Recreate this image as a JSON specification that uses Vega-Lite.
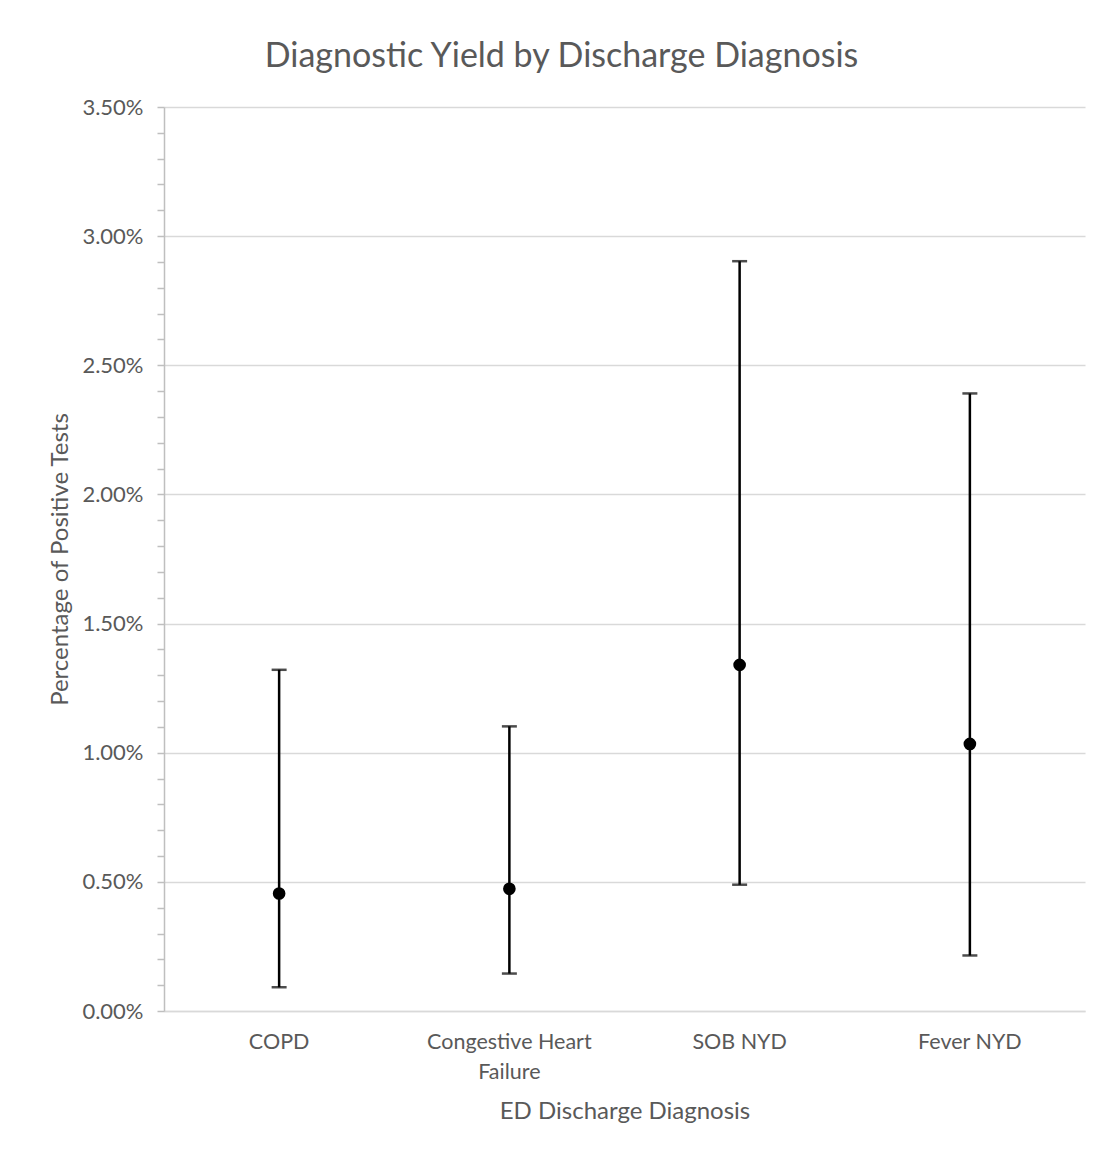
{
  "$schema": "https://vega.github.io/schema/vega-lite/v6.json",
  "autosize": "none",
  "width": 921,
  "height": 904,
  "padding": {"left": 164, "top": 107, "right": 19, "bottom": 143},
  "background": "white",
  "title": {
    "text": "Diagnostic Yield by Discharge Diagnosis",
    "font": "Lato",
    "fontSize": 34,
    "fontWeight": "normal",
    "color": "#595959",
    "anchor": "middle",
    "dx": -63,
    "offset": 22
  },
  "data": {
    "values": [
      {"diagnosis": "COPD", "mean": 0.00455, "lower": 0.00092, "upper": 0.01321},
      {"diagnosis": "Congestive Heart Failure", "mean": 0.00473, "lower": 0.00145, "upper": 0.01102},
      {"diagnosis": "SOB NYD", "mean": 0.0134, "lower": 0.00489, "upper": 0.02903},
      {"diagnosis": "Fever NYD", "mean": 0.01034, "lower": 0.00215, "upper": 0.02391}
    ]
  },
  "encoding": {
    "x": {
      "field": "diagnosis",
      "type": "nominal",
      "sort": null,
      "title": "ED Discharge Diagnosis",
      "scale": {"paddingInner": 0, "paddingOuter": 0},
      "axis": {
        "labelAngle": 0,
        "labelFont": "Lato",
        "labelFontSize": 21.5,
        "labelColor": "#595959",
        "labelPadding": 20,
        "labelLineHeight": 30,
        "labelExpr": "datum.label == 'Congestive Heart Failure' ? ['Congestive Heart', 'Failure'] : datum.label",
        "ticks": false,
        "domainColor": "#d9d9d9",
        "domainWidth": 1.5,
        "titleFont": "Lato",
        "titleFontSize": 24,
        "titleFontWeight": "normal",
        "titleColor": "#595959",
        "titlePadding": 17
      }
    }
  },
  "layer": [
    {
      "mark": {"type": "rule", "color": "black", "strokeWidth": 2.5},
      "encoding": {
        "y": {
          "field": "lower",
          "type": "quantitative",
          "title": "Percentage of Positive Tests",
          "scale": {"domain": [0, 0.035], "nice": false},
          "axis": {
            "values": [0, 0.001, 0.002, 0.003, 0.004, 0.005, 0.006, 0.007, 0.008, 0.009, 0.01, 0.011, 0.012, 0.013, 0.014, 0.015, 0.016, 0.017, 0.018, 0.019, 0.02, 0.021, 0.022, 0.023, 0.024, 0.025, 0.026, 0.027, 0.028, 0.029, 0.03, 0.031, 0.032, 0.033, 0.034, 0.035],
            "labelExpr": "abs(datum.value * 200 - round(datum.value * 200)) < 0.01 ? format(datum.value, '.2%') : ''",
            "labelOverlap": false,
            "labelFont": "Lato",
            "labelFontSize": 22,
            "labelColor": "#595959",
            "labelPadding": 14,
            "tickColor": "#bfbfbf",
            "tickWidth": 1.5,
            "tickSize": 7,
            "domainColor": "#bfbfbf",
            "domainWidth": 1.5,
            "grid": true,
            "gridColor": "#d9d9d9",
            "gridWidth": 1.5,
            "gridOpacity": {"condition": {"test": "abs(datum.value * 200 - round(datum.value * 200)) < 0.01", "value": 1}, "value": 0},
            "titleFont": "Lato",
            "titleFontSize": 24,
            "titleFontWeight": "normal",
            "titleColor": "#595959",
            "titlePadding": 9
          }
        },
        "y2": {"field": "upper"}
      }
    },
    {
      "mark": {"type": "tick", "color": "black", "thickness": 2.5, "size": 15, "orient": "horizontal"},
      "encoding": {
        "y": {
          "field": "lower",
          "type": "quantitative",
          "title": "Percentage of Positive Tests",
          "scale": {"domain": [0, 0.035], "nice": false},
          "axis": {
            "values": [0, 0.001, 0.002, 0.003, 0.004, 0.005, 0.006, 0.007, 0.008, 0.009, 0.01, 0.011, 0.012, 0.013, 0.014, 0.015, 0.016, 0.017, 0.018, 0.019, 0.02, 0.021, 0.022, 0.023, 0.024, 0.025, 0.026, 0.027, 0.028, 0.029, 0.03, 0.031, 0.032, 0.033, 0.034, 0.035],
            "labelExpr": "abs(datum.value * 200 - round(datum.value * 200)) < 0.01 ? format(datum.value, '.2%') : ''",
            "labelOverlap": false,
            "labelFont": "Lato",
            "labelFontSize": 22,
            "labelColor": "#595959",
            "labelPadding": 14,
            "tickColor": "#bfbfbf",
            "tickWidth": 1.5,
            "tickSize": 7,
            "domainColor": "#bfbfbf",
            "domainWidth": 1.5,
            "grid": true,
            "gridColor": "#d9d9d9",
            "gridWidth": 1.5,
            "gridOpacity": {"condition": {"test": "abs(datum.value * 200 - round(datum.value * 200)) < 0.01", "value": 1}, "value": 0},
            "titleFont": "Lato",
            "titleFontSize": 24,
            "titleFontWeight": "normal",
            "titleColor": "#595959",
            "titlePadding": 9
          }
        }
      }
    },
    {
      "mark": {"type": "tick", "color": "black", "thickness": 2.5, "size": 15, "orient": "horizontal"},
      "encoding": {
        "y": {
          "field": "upper",
          "type": "quantitative",
          "title": "Percentage of Positive Tests",
          "scale": {"domain": [0, 0.035], "nice": false},
          "axis": {
            "values": [0, 0.001, 0.002, 0.003, 0.004, 0.005, 0.006, 0.007, 0.008, 0.009, 0.01, 0.011, 0.012, 0.013, 0.014, 0.015, 0.016, 0.017, 0.018, 0.019, 0.02, 0.021, 0.022, 0.023, 0.024, 0.025, 0.026, 0.027, 0.028, 0.029, 0.03, 0.031, 0.032, 0.033, 0.034, 0.035],
            "labelExpr": "abs(datum.value * 200 - round(datum.value * 200)) < 0.01 ? format(datum.value, '.2%') : ''",
            "labelOverlap": false,
            "labelFont": "Lato",
            "labelFontSize": 22,
            "labelColor": "#595959",
            "labelPadding": 14,
            "tickColor": "#bfbfbf",
            "tickWidth": 1.5,
            "tickSize": 7,
            "domainColor": "#bfbfbf",
            "domainWidth": 1.5,
            "grid": true,
            "gridColor": "#d9d9d9",
            "gridWidth": 1.5,
            "gridOpacity": {"condition": {"test": "abs(datum.value * 200 - round(datum.value * 200)) < 0.01", "value": 1}, "value": 0},
            "titleFont": "Lato",
            "titleFontSize": 24,
            "titleFontWeight": "normal",
            "titleColor": "#595959",
            "titlePadding": 9
          }
        }
      }
    },
    {
      "mark": {"type": "point", "shape": "circle", "filled": true, "color": "black", "opacity": 1, "size": 160},
      "encoding": {
        "y": {
          "field": "mean",
          "type": "quantitative",
          "title": "Percentage of Positive Tests",
          "scale": {"domain": [0, 0.035], "nice": false},
          "axis": {
            "values": [0, 0.001, 0.002, 0.003, 0.004, 0.005, 0.006, 0.007, 0.008, 0.009, 0.01, 0.011, 0.012, 0.013, 0.014, 0.015, 0.016, 0.017, 0.018, 0.019, 0.02, 0.021, 0.022, 0.023, 0.024, 0.025, 0.026, 0.027, 0.028, 0.029, 0.03, 0.031, 0.032, 0.033, 0.034, 0.035],
            "labelExpr": "abs(datum.value * 200 - round(datum.value * 200)) < 0.01 ? format(datum.value, '.2%') : ''",
            "labelOverlap": false,
            "labelFont": "Lato",
            "labelFontSize": 22,
            "labelColor": "#595959",
            "labelPadding": 14,
            "tickColor": "#bfbfbf",
            "tickWidth": 1.5,
            "tickSize": 7,
            "domainColor": "#bfbfbf",
            "domainWidth": 1.5,
            "grid": true,
            "gridColor": "#d9d9d9",
            "gridWidth": 1.5,
            "gridOpacity": {"condition": {"test": "abs(datum.value * 200 - round(datum.value * 200)) < 0.01", "value": 1}, "value": 0},
            "titleFont": "Lato",
            "titleFontSize": 24,
            "titleFontWeight": "normal",
            "titleColor": "#595959",
            "titlePadding": 9
          }
        }
      }
    }
  ],
  "config": {
    "view": {"stroke": null}
  }
}
